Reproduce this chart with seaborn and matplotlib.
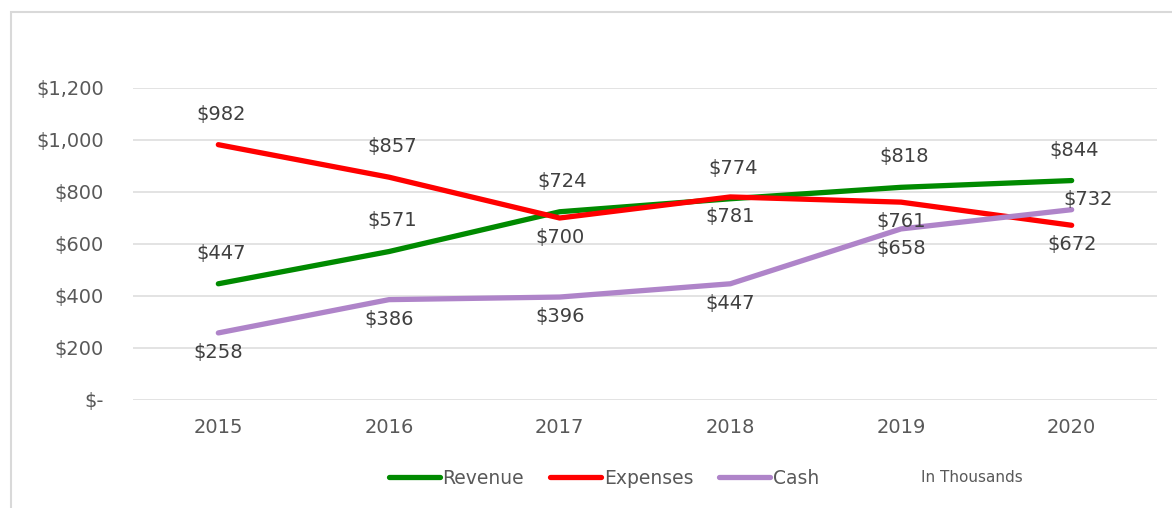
import pandas as pd
import matplotlib.pyplot as plt
import seaborn as sns
from matplotlib.patches import Rectangle
from matplotlib.lines import Line2D

# values (in thousands)
years = ['2015', '2016', '2017', '2018', '2019', '2020']
revenue = [447, 571, 724, 774, 818, 844]
expenses = [982, 857, 700, 781, 761, 672]
cash = [258, 386, 396, 447, 658, 732]

series_names = ['Revenue', 'Expenses', 'Cash']
colors = ['#008A00', '#FF0000', '#AF84C9']
# where excel put each data label
label_pos = {
    'Revenue': ['above'] * 6,
    'Expenses': ['above', 'above', 'below', 'below', 'below', 'below'],
    'Cash': ['below', 'below', 'below', 'below', 'below', 'right'],
}

df = pd.DataFrame({
    'Year': years * 3,
    'Value': revenue + expenses + cash,
    'Series': ['Revenue'] * 6 + ['Expenses'] * 6 + ['Cash'] * 6,
})

sns.set_theme(style='white')
plt.rcParams['font.family'] = ['DejaVu Sans']

fig = plt.figure(figsize=(11.72, 5.08), dpi=100)
# chart frame (cropped on right and bottom)
fig.patches.append(Rectangle((11 / 1172, -0.1), 1.2, 1 - 12 / 508 + 0.1,
                             transform=fig.transFigure, fill=False,
                             edgecolor='#D9D9D9', linewidth=1.5))

ax = fig.add_axes([133 / 1172, 1 - 400 / 508, 1024 / 1172, 312 / 508])
sns.lineplot(data=df, x='Year', y='Value', hue='Series', palette=colors,
             linewidth=3.8, ax=ax, legend=False, sort=False)
for ln in ax.lines:
    ln.set_solid_capstyle('round')
    ln.set_solid_joinstyle('round')

ax.set_xlim(-0.5, 5.5)
ax.set_ylim(0, 1200)
ax.set_yticks(range(0, 1201, 200))
ax.set_yticklabels(['$-'] + [f'${v:,}' for v in range(200, 1201, 200)])
ax.yaxis.grid(True, color='#E0E0E0', linewidth=1.3)
ax.set_axisbelow(True)
for s in ax.spines.values():
    s.set_visible(False)
ax.tick_params(axis='y', length=0, pad=21, labelsize=14, labelcolor='#595959')
ax.tick_params(axis='x', length=0, pad=13, labelsize=14, labelcolor='#595959')
ax.set_xlabel('')
ax.set_ylabel('')

data = {'Revenue': revenue, 'Expenses': expenses, 'Cash': cash}
offsets = {'above': (2, 22), 'below': (0, -14), 'right': (12, 7)}
for name in series_names:
    for i, v in enumerate(data[name]):
        ax.annotate(f'${v}', (i, v), xytext=offsets[label_pos[name][i]],
                    textcoords='offset points', ha='center', va='center',
                    fontsize=14, color='#404040')

handles = [Line2D([], [], color=c, linewidth=3.8, solid_capstyle='round') for c in colors]
fig.legend(handles, series_names, loc='center', bbox_to_anchor=(604 / 1172, 1 - 478 / 508),
           ncol=3, frameon=False, fontsize=13.5, handlelength=2.7, handletextpad=0.15,
           columnspacing=1.4, labelcolor='#595959')
fig.text(921 / 1172, 1 - 478 / 508, 'In Thousands', fontsize=11, color='#595959',
         ha='left', va='center')

fig.savefig('out.png', dpi=100)
